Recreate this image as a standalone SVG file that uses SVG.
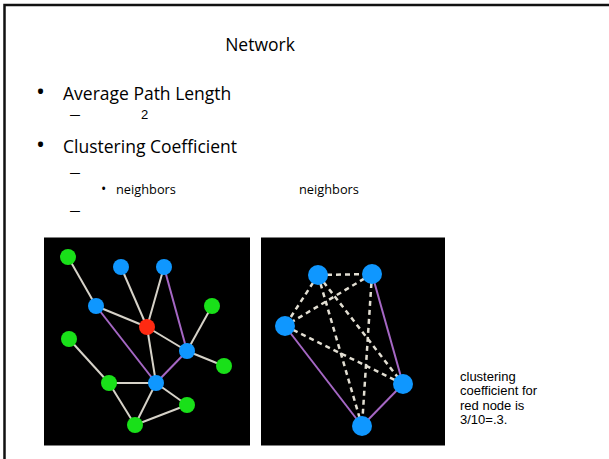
<svg xmlns="http://www.w3.org/2000/svg" width="609" height="459" viewBox="0 0 609 459">
<style>
.t{font-family:"Open Sans","Liberation Sans",sans-serif;fill:#000}
.m{font-family:"Liberation Sans",Arial,sans-serif;fill:#000}
.s{font-family:"Liberation Sans",Arial,sans-serif;fill:#000;font-size:13px}
.e{stroke:#d6d2c8;stroke-width:2;fill:none}
.p{stroke:#a567c4;stroke-width:2;fill:none}
.d{stroke:#e2ded2;stroke-width:2.5;stroke-dasharray:5 4;fill:none}
.g{fill:#19e019}
.b{fill:#0f97ff}
.r{fill:#ff2a12}
</style>
<rect x="0" y="0" width="609" height="459" fill="#fff"/>
<path d="M4.5,459 V5 H609" fill="none" stroke="#111" stroke-width="2.5"/>
<g id="text">
<text class="t" x="260" y="51" font-size="17.5" text-anchor="middle">Network</text>
<text class="t" x="36" y="100" font-size="24">•</text>
<text class="t" x="63" y="100" font-size="17.5">Average Path Length</text>
<text class="m" x="70" y="118.5" font-size="14" textLength="10" lengthAdjust="spacingAndGlyphs">–</text>
<text class="m" x="141" y="118.5" font-size="13">2</text>
<text class="t" x="36" y="153" font-size="24">•</text>
<text class="t" x="63" y="153" font-size="17.5">Clustering Coefficient</text>
<text class="m" x="70" y="177" font-size="14" textLength="10" lengthAdjust="spacingAndGlyphs">–</text>
<text class="t" x="101" y="194" font-size="14">•</text>
<text class="t" x="116" y="194" font-size="12.8">neighbors</text>
<text class="t" x="299" y="194" font-size="12.8">neighbors</text>
<text class="m" x="70" y="215" font-size="14" textLength="10" lengthAdjust="spacingAndGlyphs">–</text>
</g>
<rect id="panel-left" x="44" y="237.5" width="206" height="208" fill="#000"/>
<rect id="panel-right" x="261" y="237.5" width="184" height="208" fill="#000"/>
<g id="connectors">
<line class="e" x1="68" y1="257" x2="96" y2="306"/>
<line class="e" x1="121" y1="267" x2="147" y2="327"/>
<line class="e" x1="164" y1="267" x2="147" y2="327"/>
<line class="e" x1="96" y1="306" x2="147" y2="327"/>
<line class="e" x1="147" y1="327" x2="187" y2="351"/>
<line class="e" x1="147" y1="327" x2="156" y2="383"/>
<line class="e" x1="212" y1="306" x2="187" y2="351"/>
<line class="e" x1="187" y1="351" x2="224" y2="366"/>
<line class="e" x1="69" y1="339" x2="109" y2="383"/>
<line class="e" x1="109" y1="383" x2="156" y2="383"/>
<line class="e" x1="109" y1="383" x2="135" y2="425"/>
<line class="e" x1="156" y1="383" x2="135" y2="425"/>
<line class="e" x1="156" y1="383" x2="187" y2="405"/>
<line class="e" x1="135" y1="425" x2="187" y2="405"/>
<line class="p" x1="96" y1="306" x2="156" y2="383"/>
<line class="p" x1="164" y1="267" x2="187" y2="351"/>
<line class="p" x1="187" y1="351" x2="156" y2="383"/>
<line class="d" x1="318" y1="275" x2="372" y2="274"/>
<line class="d" x1="318" y1="275" x2="285" y2="326"/>
<line class="d" x1="318" y1="275" x2="403" y2="384"/>
<line class="d" x1="318" y1="275" x2="362" y2="426"/>
<line class="d" x1="372" y1="274" x2="285" y2="326"/>
<line class="d" x1="372" y1="274" x2="362" y2="426"/>
<line class="d" x1="285" y1="326" x2="403" y2="384"/>
<line class="p" x1="285" y1="326" x2="362" y2="426"/>
<line class="p" x1="372" y1="274" x2="403" y2="384"/>
<line class="p" x1="403" y1="384" x2="362" y2="426"/>
</g>
<g id="L1"><circle class="g" cx="68" cy="257" r="8"/></g>
<g id="L2"><circle class="b" cx="121" cy="267" r="8"/></g>
<g id="L3"><circle class="b" cx="164" cy="267" r="8"/></g>
<g id="L4"><circle class="b" cx="96" cy="306" r="8"/></g>
<g id="L5"><circle class="g" cx="212" cy="306" r="8"/></g>
<g id="L6"><circle class="r" cx="147" cy="327" r="8"/></g>
<g id="L7"><circle class="g" cx="69" cy="339" r="8"/></g>
<g id="L8"><circle class="b" cx="187" cy="351" r="8"/></g>
<g id="L9"><circle class="g" cx="224" cy="366" r="8"/></g>
<g id="L10"><circle class="g" cx="109" cy="383" r="8"/></g>
<g id="L11"><circle class="b" cx="156" cy="383" r="8"/></g>
<g id="L12"><circle class="g" cx="187" cy="405" r="8"/></g>
<g id="L13"><circle class="g" cx="135" cy="425" r="8"/></g>
<g id="R1"><circle class="b" cx="318" cy="275" r="10"/></g>
<g id="R2"><circle class="b" cx="372" cy="274" r="10"/></g>
<g id="R3"><circle class="b" cx="285" cy="326" r="10"/></g>
<g id="R4"><circle class="b" cx="403" cy="384" r="10"/></g>
<g id="R5"><circle class="b" cx="362" cy="426" r="10"/></g>
<g id="caption">
<text class="s" x="460" y="381">clustering</text>
<text class="s" x="460" y="395">coefficient for</text>
<text class="s" x="460" y="410">red node is</text>
<text class="s" x="460" y="424">3/10=.3.</text>
</g>
</svg>
